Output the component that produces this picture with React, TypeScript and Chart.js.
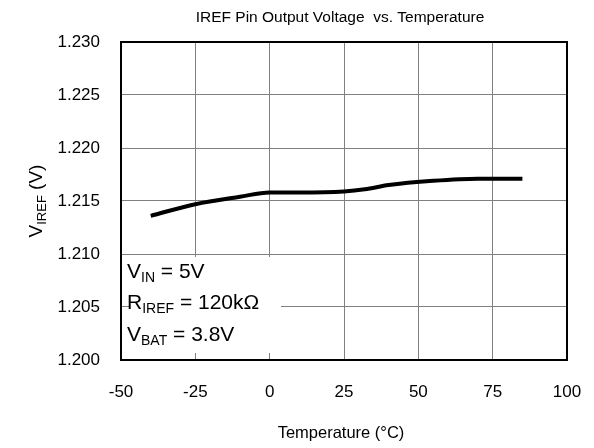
import React, { useEffect, useRef } from "react";
import { Chart, registerables } from "chart.js";

Chart.register(...registerables);

const temperatures = [-40, -25, -10, 0, 10, 25, 32, 40, 55, 70, 85];
const vIref = [1.2136, 1.2147, 1.2154, 1.2158, 1.2158, 1.2159, 1.2161, 1.2165, 1.2169, 1.2171, 1.2171];
const xTicks = [-50, -25, 0, 25, 50, 75, 100];
const yTicks = [1.2, 1.205, 1.21, 1.215, 1.22, 1.225, 1.23];

const titleText = "IREF Pin Output Voltage  vs. Temperature";
const xTitle = "Temperature (°C)";
const FONT = "'Liberation Sans', Arial, sans-serif";

type Seg = { t: string; sub?: boolean };
const noteLines: Seg[][] = [
  [{ t: "V" }, { t: "IN", sub: true }, { t: " = 5V" }],
  [{ t: "R" }, { t: "IREF", sub: true }, { t: " = 120kΩ" }],
  [{ t: "V" }, { t: "BAT", sub: true }, { t: " = 3.8V" }],
];
const yTitle: Seg[] = [{ t: "V" }, { t: "IREF", sub: true }, { t: " (V)" }];

function drawSegs(ctx: CanvasRenderingContext2D, segs: Seg[], x: number, y: number, main: number, sub: number, off: number) {
  let cx = x;
  for (const s of segs) {
    ctx.font = `${s.sub ? sub : main}px ${FONT}`;
    ctx.fillText(s.t, cx, s.sub ? y + off : y);
    cx += ctx.measureText(s.t).width;
  }
  return cx - x;
}
function measureSegs(ctx: CanvasRenderingContext2D, segs: Seg[], main: number, sub: number) {
  let w = 0;
  for (const s of segs) {
    ctx.font = `${s.sub ? sub : main}px ${FONT}`;
    w += ctx.measureText(s.t).width;
  }
  return w;
}

const overlay = {
  id: "overlay",
  beforeDatasetsDraw(chart: any) {
    const { ctx, chartArea } = chart;
    ctx.save();
    ctx.fillStyle = "#fff";
    ctx.fillRect(chartArea.left + 8, chartArea.bottom - 103, 152, 96);
    ctx.restore();
  },
  afterDraw(chart: any) {
    const { ctx, chartArea } = chart;
    ctx.save();
    ctx.strokeStyle = "#000";
    ctx.lineWidth = 2;
    ctx.strokeRect(chartArea.left, chartArea.top, chartArea.right - chartArea.left, chartArea.bottom - chartArea.top);
    ctx.fillStyle = "#000";
    ctx.textBaseline = "middle";
    ctx.font = `15.5px ${FONT}`;
    ctx.textAlign = "center";
    ctx.fillText(titleText, 340, 18);
    ctx.font = `16.5px ${FONT}`;
    ctx.fillText(xTitle, 341, 433);
    ctx.textAlign = "left";
    const base = chartArea.bottom - 88;
    noteLines.forEach((segs, i) => {
      drawSegs(ctx, segs, chartArea.left + 6, base + i * 31.5, 21, 14, 6);
    });
    ctx.translate(37, (chartArea.top + chartArea.bottom) / 2);
    ctx.rotate(-Math.PI / 2);
    const w = measureSegs(ctx, yTitle, 19, 13);
    drawSegs(ctx, yTitle, -w / 2, 0, 19, 13, 5);
    ctx.restore();
  },
};

export default function App() {
  const ref = useRef<HTMLCanvasElement | null>(null);
  useEffect(() => {
    if (!ref.current) return;
    const chart = new Chart(ref.current, {
      type: "line",
      data: {
        datasets: [
          {
            data: temperatures.map((t, i) => ({ x: t, y: vIref[i] })),
            borderColor: "#000",
            borderWidth: 4,
            pointRadius: 0,
            cubicInterpolationMode: "monotone",
            fill: false,
          },
        ],
      },
      options: {
        animation: false,
        responsive: false,
        devicePixelRatio: 1,
        layout: { padding: { top: 42, right: 27, left: 0, bottom: 0 } },
        plugins: { legend: { display: false }, title: { display: false }, tooltip: { enabled: false } },
        scales: {
          x: {
            type: "linear",
            min: -50,
            max: 100,
            afterBuildTicks: (s: any) => {
              s.ticks = xTicks.map((v) => ({ value: v }));
            },
            afterFit: (s: any) => {
              s.height = 88;
              s.paddingLeft = 0;
              s.paddingRight = 0;
            },
            grid: { color: "#808080", lineWidth: 1, drawTicks: false },
            border: { display: false },
            ticks: {
              color: "#000",
              padding: 22,
              maxRotation: 0,
              font: { family: FONT, size: 17 },
              callback: (v: any) => String(v),
            },
          },
          y: {
            type: "linear",
            min: 1.2,
            max: 1.23,
            afterBuildTicks: (s: any) => {
              s.ticks = yTicks.map((v) => ({ value: v }));
            },
            afterFit: (s: any) => {
              s.width = 121;
              s.paddingTop = 0;
              s.paddingBottom = 0;
            },
            grid: { color: "#808080", lineWidth: 1, drawTicks: false },
            border: { display: false },
            ticks: {
              color: "#000",
              padding: 21,
              font: { family: FONT, size: 17 },
              callback: (v: any) => Number(v).toFixed(3),
            },
          },
        },
      },
      plugins: [overlay],
    } as any);
    return () => chart.destroy();
  }, []);
  return (
    <div style={{ position: "fixed", left: 0, top: 0, width: 594, height: 448, background: "#fff" }}>
      <canvas ref={ref} width={594} height={448} />
    </div>
  );
}
